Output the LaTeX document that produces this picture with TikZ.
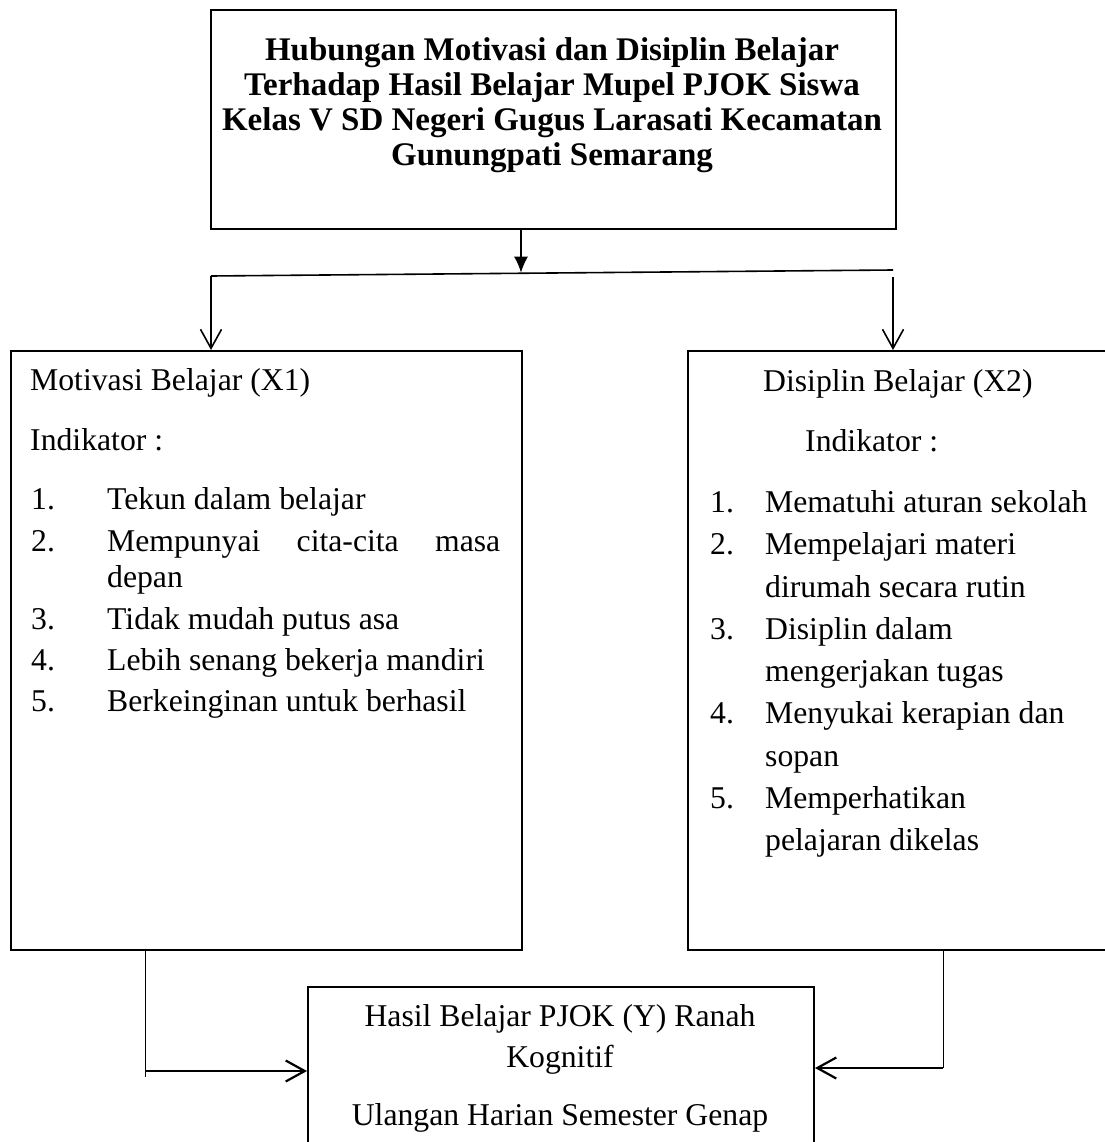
\documentclass[tikz,border=0pt]{standalone}
\usepackage{fontspec}
\setmainfont{Liberation Serif}
\usetikzlibrary{arrows.meta,calc}
\begin{document}
\begin{tikzpicture}[x=1pt,y=-1pt,
  box/.style={draw, line width=2pt, rectangle, inner sep=0pt, anchor=north west},
  txt/.style={anchor=base west, inner sep=0pt, font=\fontsize{31.7}{38}\selectfont},
  ctxt/.style={anchor=base, inner sep=0pt, font=\fontsize{31.7}{38}\selectfont},
  ttl/.style={anchor=base, inner sep=0pt, font=\fontsize{33}{36}\selectfont\bfseries},
  conn/.style={line width=1.6pt},
  thinconn/.style={line width=1pt},
  thickconn/.style={line width=2.2pt},
  openarrow/.style={-{Straight Barb[length=19pt,width=21pt]}},
  fillarrow/.style={-{Latex[length=16pt,width=14pt]}}
]
\useasboundingbox (0,0) rectangle (1104,1142);

% boxes
\node[box, minimum width=685pt, minimum height=219pt] (top) at (210,9) {};
\node[box, minimum width=511pt, minimum height=599pt] (left) at (10,350) {};
\node[box, minimum width=430pt, minimum height=599pt] (right) at (687,350) {};
\node[box, minimum width=506pt, minimum height=200pt] (bottom) at (307,986) {};

% title
\node[ttl] (t1) at (552,61) {Hubungan Motivasi dan Disiplin Belajar};
\node[ttl] (t2) at (552,96) {Terhadap Hasil Belajar Mupel PJOK Siswa};
\node[ttl] (t3) at (552,131) {Kelas V SD Negeri Gugus Larasati Kecamatan};
\node[ttl] (t4) at (552,166) {Gunungpati Semarang};

% left box text
\node[txt] (lh) at (30,390) {Motivasi Belajar (X1)};
\node[txt] (li) at (30,450) {Indikator :};
\node[txt] (ln1) at (31,509) {1.};
\node[txt] (lt1) at (107,509) {Tekun dalam belajar};
\node[txt] (ln2) at (31,551) {2.};
\node[txt] (lt2) at (107,551) {\hbox to 393pt{Mempunyai\hfill cita-cita\hfill masa}};
\node[txt] (lt2b) at (107,587) {depan};
\node[txt] (ln3) at (31,629) {3.};
\node[txt] (lt3) at (107,629) {Tidak mudah putus asa};
\node[txt] (ln4) at (31,670) {4.};
\node[txt] (lt4) at (107,670) {Lebih senang bekerja mandiri};
\node[txt] (ln5) at (31,711) {5.};
\node[txt] (lt5) at (107,711) {Berkeinginan untuk berhasil};

% right box text
\node[txt] (rh) at (763,391) {Disiplin Belajar (X2)};
\node[txt] (ri) at (805,451) {Indikator :};
\node[txt] (rn1) at (710,512) {1.};
\node[txt] (rt1) at (765,512) {Mematuhi aturan sekolah};
\node[txt] (rn2) at (710,554) {2.};
\node[txt] (rt2) at (765,554) {Mempelajari materi};
\node[txt] (rt2b) at (765,597) {dirumah secara rutin};
\node[txt] (rn3) at (710,639) {3.};
\node[txt] (rt3) at (765,639) {Disiplin dalam};
\node[txt] (rt3b) at (765,681) {mengerjakan tugas};
\node[txt] (rn4) at (710,723) {4.};
\node[txt] (rt4) at (765,723) {Menyukai kerapian dan};
\node[txt] (rt4b) at (765,766) {sopan};
\node[txt] (rn5) at (710,808) {5.};
\node[txt] (rt5) at (765,808) {Memperhatikan};
\node[txt] (rt5b) at (765,850) {pelajaran dikelas};

% bottom box text
\node[ctxt] (b1) at (560,1026) {Hasil Belajar PJOK (Y) Ranah};
\node[ctxt] (b2) at (560,1067) {Kognitif};
\node[ctxt] (b3) at (560,1125) {Ulangan Harian Semester Genap};

% connectors top
\coordinate (hl) at (211,276);
\coordinate (hr) at (893,270);
\coordinate (hm) at (521,272.7);
\coordinate (rtop) at (893,277);
\draw[conn, fillarrow] (top.south -| hm) -- (hm);
\draw[conn] (hl) -- (hr);
\draw[conn, openarrow] (hl) -- (hl |- left.north);
\draw[conn, openarrow] (rtop) -- (rtop |- right.north);

% connectors bottom
\coordinate (lb) at (145,1071);
\coordinate (lbend) at (145,1077);
\coordinate (rb) at (943,1068);
\draw[thinconn] (left.south -| lb) -- (lbend);
\draw[thickconn, openarrow] (lb) -- (lb -| bottom.west);
\draw[thinconn] (right.south -| rb) -- (rb);
\draw[thickconn, openarrow] (rb) -- (rb -| bottom.east);
\end{tikzpicture}
\end{document}
